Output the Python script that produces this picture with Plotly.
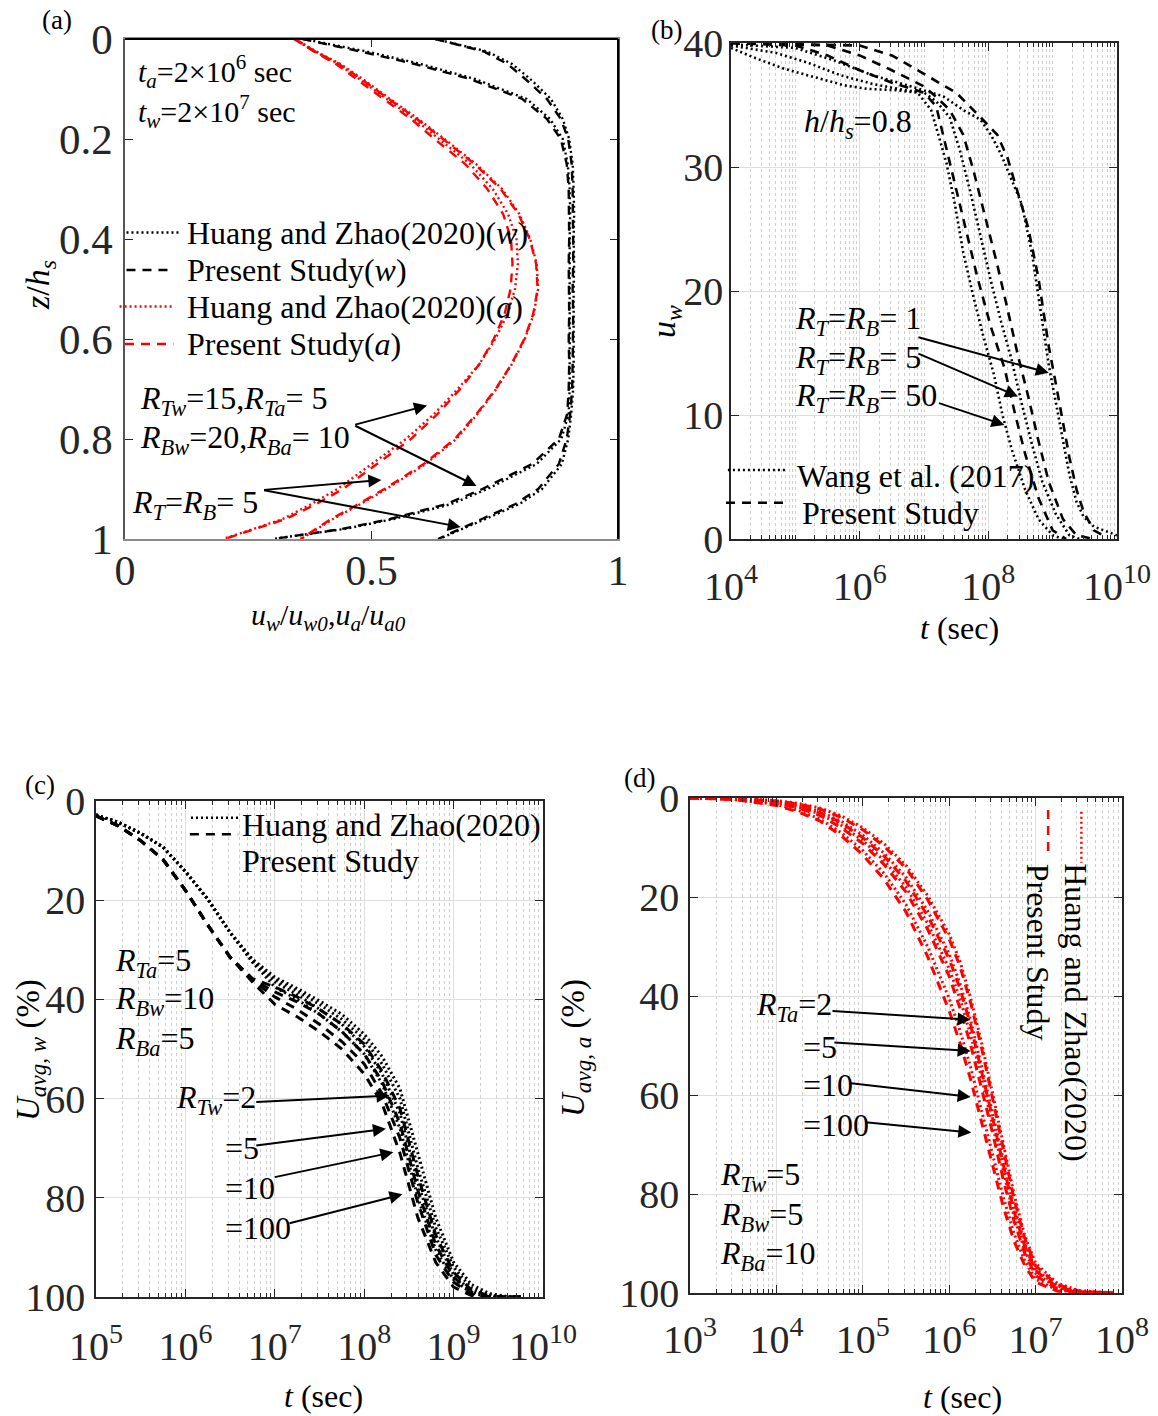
import plotly.graph_objects as go

FONT = "Liberation Serif"
INK = "#262626"

# ---------------- (a) normalised velocity profiles ----------------
z_a = [0, 0.025, 0.05, 0.08, 0.12, 0.16, 0.2, 0.25, 0.3, 0.35, 0.4, 0.45, 0.5,
       0.55, 0.6, 0.65, 0.7, 0.75, 0.8, 0.85, 0.9, 0.93, 0.96, 0.98, 1.0]
w_rb5_huang = [0.629, 0.735, 0.785, 0.822, 0.864, 0.888, 0.901, 0.908, 0.910, 0.911, 0.910, 0.911, 0.910,
               0.910, 0.911, 0.910, 0.909, 0.905, 0.899, 0.886, 0.846, 0.800, 0.731, 0.685, 0.637]
w_rb5_present = [0.630, 0.728, 0.776, 0.812, 0.856, 0.884, 0.899, 0.906, 0.908, 0.909, 0.909, 0.909, 0.908,
                 0.909, 0.909, 0.908, 0.907, 0.903, 0.896, 0.880, 0.838, 0.792, 0.724, 0.680, 0.635]
w_rt15_huang = [0.362, 0.490, 0.600, 0.710, 0.815, 0.862, 0.888, 0.898, 0.902, 0.903, 0.902, 0.902, 0.903,
                0.902, 0.902, 0.903, 0.902, 0.900, 0.885, 0.835, 0.735, 0.662, 0.545, 0.445, 0.299]
w_rt15_present = [0.360, 0.478, 0.588, 0.700, 0.806, 0.856, 0.884, 0.896, 0.900, 0.901, 0.901, 0.900, 0.901,
                  0.901, 0.900, 0.901, 0.900, 0.897, 0.880, 0.826, 0.725, 0.652, 0.538, 0.440, 0.300]
a_rt15_huang = [0.343, 0.385, 0.433, 0.475, 0.530, 0.587, 0.637, 0.700, 0.746, 0.777, 0.794, 0.797, 0.791,
                0.776, 0.751, 0.719, 0.675, 0.627, 0.570, 0.500, 0.431, 0.378, 0.320, 0.260, 0.199]
a_rt15_present = [0.343, 0.383, 0.428, 0.470, 0.524, 0.580, 0.628, 0.690, 0.735, 0.767, 0.783, 0.786, 0.782,
                  0.770, 0.748, 0.719, 0.680, 0.634, 0.580, 0.512, 0.442, 0.388, 0.326, 0.264, 0.201]
a_rb5_huang = [0.345, 0.388, 0.437, 0.482, 0.538, 0.595, 0.648, 0.712, 0.765, 0.800, 0.822, 0.835, 0.838,
               0.829, 0.811, 0.785, 0.753, 0.715, 0.672, 0.610, 0.530, 0.478, 0.422, 0.390, 0.357]
a_rb5_present = [0.345, 0.386, 0.434, 0.479, 0.535, 0.592, 0.645, 0.709, 0.762, 0.798, 0.821, 0.834, 0.837,
                 0.828, 0.810, 0.784, 0.752, 0.713, 0.669, 0.606, 0.526, 0.474, 0.418, 0.387, 0.356]

# ---------------- (b) u_w at h/hs = 0.8 (log10 of t in seconds) ----------------
b_wang_rt50_logt = [4.0, 4.42, 4.84, 5.27, 5.75, 6.12, 6.55, 6.9, 7.11, 7.24, 7.35, 7.48, 7.61, 7.77,
                    7.93, 8.09, 8.22, 8.36, 8.57, 8.78, 9.0, 9.16]
b_wang_rt50_u = [39.6, 38.7, 37.9, 37.3, 36.6, 36.3, 36.2, 36.0, 34.6, 32.3, 30.3, 27.0, 23.1, 19.5,
                 16.2, 13.2, 10.0, 7.3, 4.0, 1.6, 0.3, 0.0]
b_pres_rt50_logt = [4.0, 5.0, 5.5, 6.0, 6.5, 7.0, 7.19, 7.40, 7.61, 7.83, 8.04, 8.25, 8.41, 8.57, 8.78, 9.0, 9.21]
b_pres_rt50_u = [40.0, 39.8, 39.0, 37.8, 36.8, 36.0, 34.9, 30.3, 25.7, 21.1, 17.1, 13.8, 10.2, 6.9, 3.3, 0.7, 0.0]
b_wang_rt5_logt = [4.0, 4.7, 5.2, 5.7, 6.2, 6.7, 7.0, 7.19, 7.40, 7.56, 7.72, 7.88, 8.04, 8.20, 8.36,
                   8.52, 8.68, 8.84, 9.05, 9.26, 9.42]
b_wang_rt5_u = [39.8, 39.2, 38.4, 37.4, 36.7, 36.2, 36.0, 35.3, 34.0, 31.3, 28.0, 24.4, 20.8, 17.5, 14.5,
                10.9, 7.6, 4.6, 2.0, 0.3, 0.0]
b_pres_rt5_logt = [4.0, 5.5, 6.0, 6.5, 7.0, 7.2, 7.40, 7.61, 7.77, 7.93, 8.14, 8.30, 8.46, 8.62, 8.78,
                   8.94, 9.16, 9.37, 9.64]
b_pres_rt5_u = [40.0, 39.8, 39.0, 37.8, 36.5, 35.6, 34.6, 32.6, 29.7, 26.4, 22.1, 18.5, 14.8, 11.5, 7.9,
                4.6, 1.6, 0.3, 0.0]
b_wang_rt1_logt = [4.0, 5.0, 5.6, 6.2, 6.8, 7.3, 7.61, 7.88, 8.04, 8.20, 8.36, 8.52, 8.68, 8.84, 8.94,
                   9.05, 9.16, 9.26, 9.37, 9.48, 9.64, 9.85, 10.0]
b_wang_rt1_u = [39.9, 39.6, 38.6, 37.4, 36.5, 35.7, 34.6, 33.8, 32.6, 31.0, 29.0, 27.0, 23.0, 17.5, 14.0,
                11.0, 8.0, 5.2, 3.0, 1.8, 1.0, 0.6, 0.3]
b_pres_rt1_logt = [4.0, 6.0, 6.5, 7.0, 7.5, 7.88, 8.14, 8.30, 8.46, 8.62, 8.78, 8.94, 9.05, 9.16, 9.26,
                   9.37, 9.48, 9.64, 9.85]
b_pres_rt1_u = [40.0, 39.8, 39.0, 37.5, 36.0, 34.0, 32.6, 30.7, 28.0, 25.1, 21.0, 15.5, 12.5, 9.5, 6.6,
                4.0, 2.2, 0.7, 0.1]

# ---------------- (c) average degree of consolidation, water ----------------
c_logt = [5.0, 5.25, 5.5, 5.75, 6.0, 6.25, 6.5, 6.75, 7.0, 7.25, 7.5, 7.75, 8.0, 8.2, 8.4, 8.6,
          8.8, 9.0, 9.2, 9.4, 9.6, 9.75]
c_huang_rtw2 = [2.8, 4.3, 6.5, 9.3, 14.2, 19.8, 26.5, 32.5, 37.5, 40, 43, 46.5, 51, 57, 66, 80,
                90.5, 96.5, 99.2, 100, 100, 100]
c_huang_rtw5 = [2.8, 4.3, 6.5, 9.3, 14.2, 19.8, 26.5, 32.3, 36.5, 39, 42, 45, 49.5, 55, 63, 77,
                88, 95.5, 98.8, 99.8, 100, 100]
c_huang_rtw10 = [2.8, 4.3, 6.5, 9.3, 14.2, 19.8, 26.5, 32.1, 36, 38.3, 41, 44, 48, 53, 60, 74,
                 86, 94, 98.2, 99.6, 100, 100]
c_huang_rtw100 = [2.8, 4.3, 6.5, 9.3, 14.2, 19.8, 26.5, 31.9, 35.5, 37.8, 40.3, 43, 47, 51.5, 58, 71,
                  84, 93, 97.5, 99.3, 99.9, 100]
c_pres_rtw2 = [3.0, 5.0, 8.0, 11.8, 18, 25, 31.5, 36.5, 41, 43.5, 46.5, 50, 55, 61, 71, 84,
               93, 98, 99.7, 100, 100, 100]
c_pres_rtw5 = [3.0, 5.0, 8.0, 11.8, 18, 25, 31.5, 36.2, 39.5, 42, 45, 48.5, 53, 59, 68, 81,
               91.5, 97, 99.4, 100, 100, 100]
c_pres_rtw10 = [3.0, 5.0, 8.0, 11.8, 18, 25, 31.5, 36.0, 38.5, 40.5, 43, 46.5, 51, 56.5, 65, 78.5,
                89.5, 96, 99, 100, 100, 100]
c_pres_rtw100 = [3.0, 5.0, 8.0, 11.8, 18, 25, 31.5, 35.8, 37.5, 39.5, 42, 45, 49, 54.5, 62, 75.5,
                 87.5, 95, 98.6, 99.8, 100, 100]

# ---------------- (d) average degree of consolidation, air ----------------
d_logt = [3.0, 3.5, 4.0, 4.25, 4.5, 4.75, 5.0, 5.25, 5.5, 5.75, 6.0, 6.125, 6.25, 6.375, 6.5,
          6.625, 6.75, 6.875, 7.0, 7.25, 7.5, 7.9]
d_pres_rta100 = [0, 0.3, 1.5, 2.8, 4.6, 7.6, 11.5, 16.5, 23, 32, 43, 49.5, 57, 65.5, 74,
                 82.5, 89.5, 94.5, 97.8, 99.6, 100, 100]
d_huang_rta100 = [0, 0.3, 1.3, 2.5, 4.2, 7.0, 10.6, 15.3, 21.5, 30, 40.5, 47, 54.5, 63, 72,
                  80.5, 88, 93.5, 97.2, 99.4, 99.9, 100]
d_pres_rta10 = [0, 0.2, 1.0, 2.0, 3.5, 6.0, 9.2, 13.5, 19, 26.5, 36, 42.5, 50, 58.5, 67.5,
                77, 85.5, 92, 96.5, 99.2, 99.9, 100]
d_huang_rta10 = [0, 0.2, 0.9, 1.8, 3.2, 5.5, 8.6, 12.7, 18, 25.3, 34.5, 40.5, 48, 56.5, 66,
                 75.5, 84.5, 91.5, 96, 99, 99.8, 100]
d_pres_rta5 = [0, 0.2, 0.8, 1.6, 2.9, 5.0, 8.0, 11.8, 16.8, 23.8, 32.5, 38.5, 46, 55, 64.5,
               74, 83.5, 90.5, 95.5, 98.8, 99.8, 100]
d_huang_rta5 = [0, 0.2, 0.8, 1.5, 2.7, 4.7, 7.5, 11.2, 16, 22.8, 31.5, 37.5, 45, 54, 63.5,
                73, 82.5, 90, 95.2, 98.6, 99.7, 100]
d_pres_rta2 = [0, 0.1, 0.6, 1.2, 2.2, 3.9, 6.4, 9.8, 14.2, 20.5, 28.5, 34, 41.5, 50.5, 60.5,
               71, 81, 89, 94.5, 98.3, 99.6, 100]
d_huang_rta2 = [0, 0.1, 0.5, 1.1, 2.0, 3.6, 6.0, 9.3, 13.6, 19.7, 27.5, 33, 40.5, 49.5, 59.5,
                70, 80, 88.5, 94, 98, 99.5, 100]

DOT = "2px,3px"
DASH = "9px,7px"


def pw(v):
    return [10 ** e for e in v]


fig = go.Figure()


def line(x, y, color, dash, width, ax):
    fig.add_trace(go.Scatter(x=x, y=y, mode="lines", showlegend=False, hoverinfo="skip",
                             line=dict(color=color, dash=dash, width=width),
                             xaxis="x" + ax, yaxis="y" + ax))


# (a)
for xs, d in [(w_rb5_huang, DOT), (w_rb5_present, DASH), (w_rt15_huang, DOT), (w_rt15_present, DASH)]:
    line(xs, z_a, "black", d, 2.4, "")
for xs, d in [(a_rt15_huang, DOT), (a_rt15_present, DASH), (a_rb5_huang, DOT), (a_rb5_present, DASH)]:
    line(xs, z_a, "red", d, 2.4, "")

# (b)
for lt, u, d in [(b_wang_rt50_logt, b_wang_rt50_u, DOT), (b_pres_rt50_logt, b_pres_rt50_u, DASH),
                 (b_wang_rt5_logt, b_wang_rt5_u, DOT), (b_pres_rt5_logt, b_pres_rt5_u, DASH),
                 (b_wang_rt1_logt, b_wang_rt1_u, DOT), (b_pres_rt1_logt, b_pres_rt1_u, DASH)]:
    line(pw(lt), u, "black", d, 2.6, "2")

# (c)
for u in [c_huang_rtw2, c_huang_rtw5, c_huang_rtw10, c_huang_rtw100]:
    line(pw(c_logt), u, "black", DOT, 3, "3")
for u in [c_pres_rtw2, c_pres_rtw5, c_pres_rtw10, c_pres_rtw100]:
    line(pw(c_logt), u, "black", DASH, 3, "3")

# (d)
for u in [d_huang_rta2, d_huang_rta5, d_huang_rta10, d_huang_rta100]:
    line(pw(d_logt), u, "red", DOT, 3, "4")
for u in [d_pres_rta2, d_pres_rta5, d_pres_rta10, d_pres_rta100]:
    line(pw(d_logt), u, "red", DASH, 3, "4")

W, H = 1158, 1416


def dom_x(l, r):
    return [l / W, r / W]


def dom_y(t, b):
    return [1 - b / H, 1 - t / H]


def tfont(size):
    return dict(family=FONT, size=size, color=INK)


base = dict(showline=True, linecolor=INK, linewidth=1.5, mirror="ticks", ticks="inside",
            ticklen=8, tickwidth=1.2, tickcolor=INK, tickfont=tfont(40), zeroline=False,
            showgrid=False, automargin=False)
GRID = "#dedede"
MINOR_GRID = "#cfcfcf"


def decades(lo, hi, step):
    vals = []
    for n in range(lo, hi):
        for k in range(1, 10):
            if k == 1 and (n - lo) % step == 0:
                continue
            vals.append(k * 10 ** n)
    return vals


def logaxis(lo, hi, step, domain, anchor, standoff):
    majors = list(range(lo, hi + 1, step))
    return dict(base, type="log", domain=domain, range=[lo, hi], anchor=anchor,
                tickmode="array", tickvals=[10 ** m for m in majors],
                ticktext=["10<sup>%d</sup>" % m for m in majors], ticklabelstandoff=standoff,
                showgrid=True, gridcolor=GRID, gridwidth=1,
                minor=dict(tickmode="array", tickvals=decades(lo, hi, step), ticks="inside",
                           ticklen=4, tickcolor=INK, showgrid=True, gridcolor=MINOR_GRID,
                           griddash="dot", gridwidth=1))


fig.update_layout(
    width=W, height=H, margin=dict(l=0, r=0, t=0, b=0, autoexpand=False),
    paper_bgcolor="white", plot_bgcolor="white", showlegend=False,
    font=dict(family=FONT, color="black"),
    xaxis=dict(base, domain=dom_x(125, 618), range=[0, 1], tickvals=[0, 0.5, 1],
               ticktext=["0", "0.5", "1"], linecolor="#8a8a8a", anchor="y",
               tickfont=tfont(42), ticklabelstandoff=-6),
    yaxis=dict(base, domain=dom_y(39, 539), range=[1, 0], tickvals=[0, 0.2, 0.4, 0.6, 0.8, 1],
               ticktext=["0", "0.2", "0.4", "0.6", "0.8", "1"], linecolor="#555555", anchor="x",
               tickfont=tfont(43), ticklabelstandoff=2),
    xaxis2=logaxis(4, 10, 2, dom_x(731, 1117), "y2", 11),
    yaxis2=dict(base, domain=dom_y(43, 539), range=[0, 40], tickvals=[0, 10, 20, 30, 40],
                showgrid=True, gridcolor=GRID, anchor="x2", ticklabelstandoff=-2),
    xaxis3=logaxis(5, 10, 1, dom_x(96, 543), "y3", 13),
    yaxis3=dict(base, domain=dom_y(801, 1297), range=[100, 0], tickvals=[0, 20, 40, 60, 80, 100],
                showgrid=True, gridcolor=GRID, anchor="x3", ticklabelstandoff=1),
    xaxis4=logaxis(3, 8, 1, dom_x(690, 1122), "y4", 10),
    yaxis4=dict(base, domain=dom_y(798, 1293), range=[100, 0], tickvals=[0, 20, 40, 60, 80, 100],
                showgrid=True, gridcolor=GRID, anchor="x4", ticklabelstandoff=1),
)

# black top / right frame for panel (a)
for x0, y0, x1, y1 in [(0, 1, 1, 1), (1, 0, 1, 1)]:
    fig.add_shape(type="line", xref="x domain", yref="y domain", x0=x0, y0=y0, x1=x1, y1=y1,
                  line=dict(color="black", width=2), layer="above")

ann = []
TXT = 32


def text(x, y, s, ax="", size=TXT, xanchor="left", angle=0, ref=None):
    xr, yr = ref if ref else ("x" + ax, "y" + ax)
    ann.append(dict(x=x, y=y, xref=xr, yref=yr, text=s, showarrow=False, xanchor=xanchor,
                    yanchor="middle", textangle=angle,
                    font=dict(family=FONT, size=size, color="black")))


def arrow(tail, head, ax=""):
    ann.append(dict(x=head[0], y=head[1], ax=tail[0], ay=tail[1], xref="x" + ax, yref="y" + ax,
                    axref="x" + ax, ayref="y" + ax, text="", showarrow=True, arrowhead=2,
                    arrowsize=1.3, arrowwidth=2, arrowcolor="black"))


def sample(x0, x1, y0, y1, color, dash, ax="", width=2.4):
    fig.add_shape(type="line", xref=("x" + ax + " domain"), yref=("y" + ax + " domain"),
                  x0=x0, x1=x1, y0=y0, y1=y1, line=dict(color=color, dash=dash, width=width))


def paper(px, py, s, size=22, angle=0):
    ann.append(dict(x=px / W, y=1 - py / H, xref="paper", yref="paper", text=s, showarrow=False,
                    xanchor="center", yanchor="middle", textangle=angle,
                    font=dict(family=FONT, size=size, color="black")))


# ---- panel (a) texts
text(0.022, 0.065, "<i>t<sub>a</sub></i>=2×10<sup>6</sup> sec", size=30)
text(0.022, 0.145, "<i>t<sub>w</sub></i>=2×10<sup>7</sup> sec", size=30)
legend_a = [("Huang and Zhao(2020)(<i>w</i>)", 0.387, "black", DOT, 0.003, 0.114),
            ("Present Study(<i>w</i>)", 0.462, "black", DASH, 0.003, 0.098),
            ("Huang and Zhao(2020)(<i>a</i>)", 0.535, "red", DOT, -0.011, 0.098),
            ("Present Study(<i>a</i>)", 0.61, "red", DASH, 0.0, 0.098)]
for s, z, c, d, x0, x1 in legend_a:
    sample(x0, x1, 1 - z, 1 - z, c, d)
    text(0.121, z, s)
text(0.026, 0.723, "<i>R<sub>Tw</sub></i>=15,<i>R<sub>Ta</sub></i>= 5")
text(0.026, 0.80, "<i>R<sub>Bw</sub></i>=20,<i>R<sub>Ba</sub></i>= 10")
text(0.010, 0.931, "<i>R<sub>T</sub></i>=<i>R<sub>B</sub></i>= 5")
arrow((0.464, 0.772), (0.6125, 0.733))
arrow((0.464, 0.772), (0.713, 0.894))
arrow((0.279, 0.902), (0.520, 0.882))
arrow((0.279, 0.902), (0.681, 0.976))

# ---- panel (b) texts
text(5.10, 33.5, "<i>h</i>/<i>h<sub>s</sub></i>=0.8", "2")
text(4.97, 17.6, "<i>R<sub>T</sub></i>=<i>R<sub>B</sub></i>= 1", "2")
text(4.97, 14.5, "<i>R<sub>T</sub></i>=<i>R<sub>B</sub></i>= 5", "2")
text(4.97, 11.4, "<i>R<sub>T</sub></i>=<i>R<sub>B</sub></i>= 50", "2")
arrow((6.89, 16.3), (8.94, 13.4), "2")
arrow((6.89, 15.0), (8.46, 11.5), "2")
arrow((7.21, 11.0), (8.25, 9.2), "2")
sample(-0.008, 0.145, 0.139, 0.139, "black", DOT, "2", 2.5)
sample(-0.013, 0.135, 0.073, 0.073, "black", DASH, "2", 2.5)
text(4.99, 5.1, "Wang et al. (2017)", "2")
text(5.08, 2.1, "Present Study", "2")

# ---- panel (c) texts
sample(0.2125, 0.32, 0.966, 0.966, "black", DOT, "3", 2.5)
sample(0.21, 0.318, 0.933, 0.933, "black", DASH, "3", 2.5)
text(6.61, 4.8, "Huang and Zhao(2020)", "3")
text(6.61, 12.0, "Present Study", "3")
text(5.186, 32.5, "<i>R<sub>Ta</sub></i>=5", "3")
text(5.186, 40.3, "<i>R<sub>Bw</sub></i>=10", "3")
text(5.186, 48.2, "<i>R<sub>Ba</sub></i>=5", "3")
text(5.868, 60.2, "<i>R<sub>Tw</sub></i>=2", "3")
text(6.42, 70.0, "=5", "3")
text(6.42, 78.0, "=10", "3")
text(6.42, 86.1, "=100", "3")
arrow((6.776, 60.7), (8.284, 59.4), "3")
arrow((6.776, 69.5), (8.243, 66.1), "3")
arrow((6.983, 75.9), (8.326, 70.8), "3")
arrow((7.148, 85.2), (8.428, 79.3), "3")

# ---- panel (d) texts
text(3.735, 42.2, "<i>R<sub>Ta</sub></i>=2", "4")
text(4.29, 50.3, "=5", "4")
text(4.29, 58.0, "=10", "4")
text(4.29, 66.1, "=100", "4")
arrow((4.632, 43.0), (6.248, 44.8), "4")
arrow((4.654, 49.4), (6.248, 51.1), "4")
arrow((4.846, 57.6), (6.248, 60.4), "4")
arrow((5.014, 65.5), (6.256, 67.6), "4")
text(3.329, 76.5, "<i>R<sub>Tw</sub></i>=5", "4")
text(3.329, 84.5, "<i>R<sub>Bw</sub></i>=5", "4")
text(3.329, 92.5, "<i>R<sub>Ba</sub></i>=10", "4")
sample(0.829, 0.829, 0.976, 0.883, "red", DASH, "4", 2.5)
sample(0.906, 0.906, 0.972, 0.869, "red", DOT, "4", 2.5)
text(0.895, 0.566, "Huang and Zhao(2020)", xanchor="center", angle=90, ref=("x4 domain", "y4 domain"))
text(0.805, 0.688, "Present Study", xanchor="center", angle=90, ref=("x4 domain", "y4 domain"))

# ---- axis titles and panel tags
paper(40, 285, "<i>z</i>/<i>h<sub>s</sub></i>", 34, -90)
paper(328, 617, "<i>u<sub>w</sub></i>/<i>u<sub>w0</sub></i>,<i>u<sub>a</sub></i>/<i>u<sub>a0</sub></i>", 30)
paper(666, 322, "<i>u<sub>w</sub></i>", 34, -90)
paper(960, 628, "<i>t</i> (sec)", 32)
paper(30, 1050, "<i>U<sub>avg, w</sub></i> (%)", 33, -90)
paper(323, 1396, "<i>t</i> (sec)", 32)
paper(575, 1048, "<i>U<sub>avg, a</sub></i> (%)", 33, -90)
paper(962, 1397, "<i>t</i> (sec)", 32)
paper(57, 20, "(a)", 27)
paper(666, 30, "(b)", 27)
paper(40, 785, "(c)", 27)
paper(639, 778, "(d)", 27)

fig.update_layout(annotations=ann)
fig.write_html("out.html")
